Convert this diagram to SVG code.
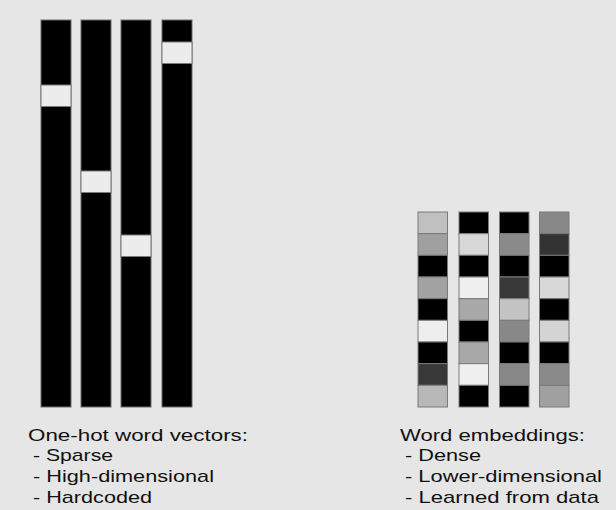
<svg xmlns="http://www.w3.org/2000/svg" width="616" height="510" viewBox="0 0 616 510">
<style>
.bar{fill:#000;stroke:#6a6a6a;stroke-width:1}
.c{stroke:#7a7a7a;stroke-width:1}
.hot{fill:#ececec;stroke:#7a7a7a;stroke-width:1}
text{font-family:"Liberation Sans",Arial,sans-serif;font-size:17px;fill:#111}
</style>
<rect width="616" height="510" fill="#e6e6e6"/>
<g id="onehot1"><rect class="bar" x="41" y="20" width="30" height="387"/><rect class="hot" x="41" y="85" width="30" height="21.5"/></g>
<g id="onehot2"><rect class="bar" x="81" y="20" width="30" height="387"/><rect class="hot" x="81" y="171" width="30" height="21.5"/></g>
<g id="onehot3"><rect class="bar" x="121" y="20" width="30" height="387"/><rect class="hot" x="121" y="235" width="30" height="21.5"/></g>
<g id="onehot4"><rect class="bar" x="162" y="20" width="30" height="387"/><rect class="hot" x="162" y="42" width="30" height="21.5"/></g>
<g id="embed1">
<rect class="c" x="418" y="212" width="29.5" height="21.67" fill="#c0c0c0"/>
<rect class="c" x="418" y="233.67" width="29.5" height="21.67" fill="#a0a0a0"/>
<rect class="c" x="418" y="255.33" width="29.5" height="21.67" fill="#000"/>
<rect class="c" x="418" y="277" width="29.5" height="21.67" fill="#a2a2a2"/>
<rect class="c" x="418" y="298.67" width="29.5" height="21.67" fill="#000"/>
<rect class="c" x="418" y="320.33" width="29.5" height="21.67" fill="#eeeeee"/>
<rect class="c" x="418" y="342" width="29.5" height="21.67" fill="#000"/>
<rect class="c" x="418" y="363.67" width="29.5" height="21.67" fill="#383838"/>
<rect class="c" x="418" y="385.33" width="29.5" height="21.67" fill="#b8b8b8"/>
</g>
<g id="embed2">
<rect class="c" x="459" y="212" width="29.5" height="21.67" fill="#000"/>
<rect class="c" x="459" y="233.67" width="29.5" height="21.67" fill="#d8d8d8"/>
<rect class="c" x="459" y="255.33" width="29.5" height="21.67" fill="#000"/>
<rect class="c" x="459" y="277" width="29.5" height="21.67" fill="#efefef"/>
<rect class="c" x="459" y="298.67" width="29.5" height="21.67" fill="#a8a8a8"/>
<rect class="c" x="459" y="320.33" width="29.5" height="21.67" fill="#000"/>
<rect class="c" x="459" y="342" width="29.5" height="21.67" fill="#a8a8a8"/>
<rect class="c" x="459" y="363.67" width="29.5" height="21.67" fill="#f0f0f0"/>
<rect class="c" x="459" y="385.33" width="29.5" height="21.67" fill="#000"/>
</g>
<g id="embed3">
<rect class="c" x="499.5" y="212" width="29.5" height="21.67" fill="#000"/>
<rect class="c" x="499.5" y="233.67" width="29.5" height="21.67" fill="#8a8a8a"/>
<rect class="c" x="499.5" y="255.33" width="29.5" height="21.67" fill="#000"/>
<rect class="c" x="499.5" y="277" width="29.5" height="21.67" fill="#383838"/>
<rect class="c" x="499.5" y="298.67" width="29.5" height="21.67" fill="#c4c4c4"/>
<rect class="c" x="499.5" y="320.33" width="29.5" height="21.67" fill="#888888"/>
<rect class="c" x="499.5" y="342" width="29.5" height="21.67" fill="#000"/>
<rect class="c" x="499.5" y="363.67" width="29.5" height="21.67" fill="#888888"/>
<rect class="c" x="499.5" y="385.33" width="29.5" height="21.67" fill="#000"/>
</g>
<g id="embed4">
<rect class="c" x="539.5" y="212" width="29.5" height="21.67" fill="#888888"/>
<rect class="c" x="539.5" y="233.67" width="29.5" height="21.67" fill="#333333"/>
<rect class="c" x="539.5" y="255.33" width="29.5" height="21.67" fill="#000"/>
<rect class="c" x="539.5" y="277" width="29.5" height="21.67" fill="#d8d8d8"/>
<rect class="c" x="539.5" y="298.67" width="29.5" height="21.67" fill="#000"/>
<rect class="c" x="539.5" y="320.33" width="29.5" height="21.67" fill="#d4d4d4"/>
<rect class="c" x="539.5" y="342" width="29.5" height="21.67" fill="#000"/>
<rect class="c" x="539.5" y="363.67" width="29.5" height="21.67" fill="#8a8a8a"/>
<rect class="c" x="539.5" y="385.33" width="29.5" height="21.67" fill="#a0a0a0"/>
</g>
<g id="label-onehot">
<text x="28" y="441" textLength="220" lengthAdjust="spacingAndGlyphs">One-hot word vectors:</text>
<text x="33" y="461" textLength="80" lengthAdjust="spacingAndGlyphs">- Sparse</text>
<text x="33" y="482" textLength="181" lengthAdjust="spacingAndGlyphs">- High-dimensional</text>
<text x="33" y="503" textLength="119" lengthAdjust="spacingAndGlyphs">- Hardcoded</text>
</g>
<g id="label-embed">
<text x="400" y="441" textLength="185" lengthAdjust="spacingAndGlyphs">Word embeddings:</text>
<text x="405" y="461" textLength="76" lengthAdjust="spacingAndGlyphs">- Dense</text>
<text x="405" y="482" textLength="197" lengthAdjust="spacingAndGlyphs">- Lower-dimensional</text>
<text x="405" y="503" textLength="194" lengthAdjust="spacingAndGlyphs">- Learned from data</text>
</g>
</svg>
